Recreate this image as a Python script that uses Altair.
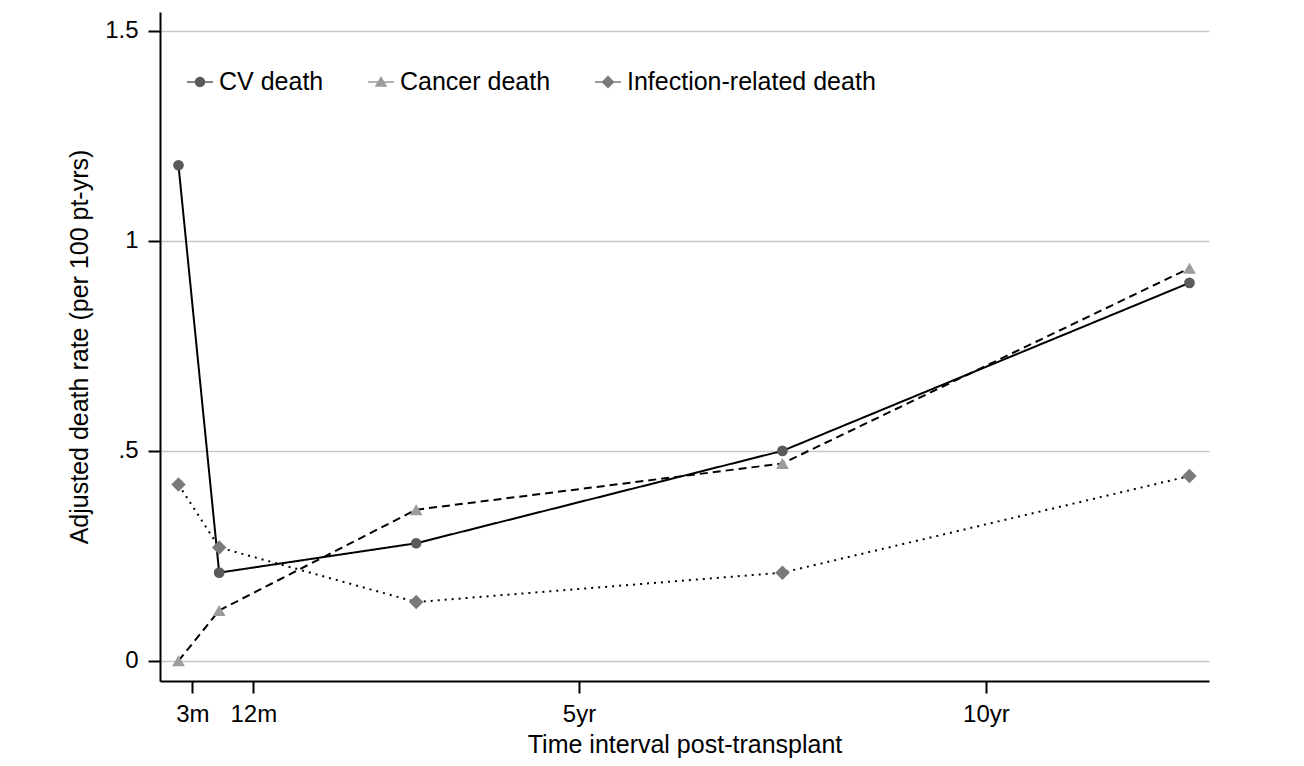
import pandas as pd
import altair as alt

# Werte
interval_years = [0.08, 0.58, 3.0, 7.5, 12.5]
cv_death = [1.18, 0.21, 0.28, 0.50, 0.90]
cancer_death = [0.00, 0.12, 0.36, 0.47, 0.935]
infection_death = [0.42, 0.27, 0.14, 0.21, 0.44]

series_names = ["CV death", "Cancer death", "Infection-related death"]
marker_grays = ["#5a5a5a", "#9c9c9c", "#7a7a7a"]
marker_shapes = ["circle", "triangle-up", "diamond"]
marker_sizes = [115, 210, 230]
line_dashes = [[1, 0], [8, 5], [2, 5]]

x_ticks = [0.25, 1, 5, 10]
x_tick_labels = ["3m", "12m", "5yr", "10yr"]
y_ticks = [0, 0.5, 1, 1.5]
y_tick_labels = ["0", ".5", "1", "1.5"]

FONT = "Liberation Sans"

rows = []
for name, values in zip(series_names, [cv_death, cancer_death, infection_death]):
    for t, v in zip(interval_years, values):
        rows.append({"t": t, "rate": v, "series": name})
df = pd.DataFrame(rows)


def label_expr(values, labels):
    expr = "''"
    for v, l in reversed(list(zip(values, labels))):
        expr = f"datum.value == {v} ? '{l}' : ({expr})"
    return expr


# Legendensymbole: kurze Linie mit Marker in der Mitte
seg = "M-1,-0.06H1V0.06H-1Z"
legend_paths = [
    seg + "M-0.4,0A0.4,0.4 0 1,1 0.4,0A0.4,0.4 0 1,1 -0.4,0Z",
    seg + "M0,-0.46L0.48,0.36H-0.48Z",
    seg + "M0,-0.5L0.5,0L0,0.5L-0.5,0Z",
]

x_enc = alt.X(
    "t:Q",
    scale=alt.Scale(domain=[-0.147, 12.74], nice=False, zero=False),
    axis=alt.Axis(
        title="Time interval post-transplant", values=x_ticks,
        labelExpr=label_expr(x_ticks, x_tick_labels), grid=False,
        labelOverlap=False, labelFlush=False, labelPadding=9, titlePadding=6,
    ),
)
y_enc = alt.Y(
    "rate:Q",
    scale=alt.Scale(domain=[-0.048, 1.545], nice=False, zero=False),
    axis=alt.Axis(
        title="Adjusted death rate (per 100 pt-yrs)", values=y_ticks,
        labelExpr=label_expr(y_ticks, y_tick_labels), grid=True,
        gridColor="#c8c8c8", gridWidth=1.6, labelPadding=10, titlePadding=12,
    ),
)

lines = alt.Chart(df).mark_line(color="black", strokeWidth=2).encode(
    x=x_enc,
    y=y_enc,
    strokeDash=alt.StrokeDash("series:N", scale=alt.Scale(domain=series_names, range=line_dashes), legend=None),
)

points = alt.Chart(df).mark_point(filled=True, opacity=1).encode(
    x=x_enc,
    y=y_enc,
    shape=alt.Shape("series:N", scale=alt.Scale(domain=series_names, range=marker_shapes), legend=None),
    color=alt.Color("series:N", scale=alt.Scale(domain=series_names, range=marker_grays), legend=None),
    size=alt.Size("series:N", scale=alt.Scale(domain=series_names, range=marker_sizes), legend=None),
)

# eigene Ebene nur fuer die Legende (keine sichtbaren Punkte)
legend_layer = alt.Chart(df).transform_calculate(key="datum.series").transform_filter(
    "datum.rate < -1"
).mark_point(filled=True, opacity=1).encode(
    x=x_enc,
    y=y_enc,
    shape=alt.Shape("key:N", title="", scale=alt.Scale(domain=series_names, range=legend_paths)),
    color=alt.Color(
        "key:N", title="", scale=alt.Scale(domain=series_names, range=marker_grays),
        legend=alt.Legend(
            orient="none", legendX=27, legendY=57, direction="horizontal",
            symbolSize=676, symbolOpacity=1, symbolStrokeWidth=0,
            labelFontSize=25, labelFont=FONT, labelColor="black", labelLimit=0,
            labelOffset=6, columnPadding=44,
        ),
    ),
)

chart = alt.layer(lines, points, legend_layer).resolve_scale(
    shape="independent", color="independent", size="independent"
).properties(
    width=1049, height=669,
    autosize=alt.AutoSizeParams(type="none"),
    padding={"left": 152, "top": 4, "right": 80, "bottom": 77},
    background="white",
).configure_view(stroke=None).configure_axis(
    labelFont=FONT, titleFont=FONT, labelFontSize=24, titleFontSize=25,
    labelColor="black", titleColor="black", titleFontWeight="normal",
    domainColor="black", domainWidth=2, tickColor="black", tickWidth=2, tickSize=12,
)

chart.save("out.html", embed_options={"renderer": "svg", "actions": False})
